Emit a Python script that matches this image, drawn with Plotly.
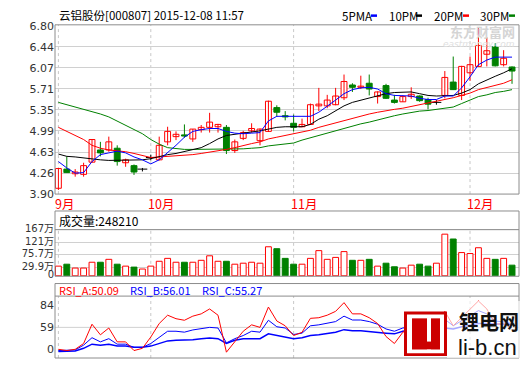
import plotly.graph_objects as go

W, H = 520, 365
RED, GREEN, BLUE, BLACK = '#ff0000', '#008000', '#0000ff', '#000000'
GRID, BORDER = '#d0d0d0', '#8c8c8c'

# ---------------- data ----------------
month_labels = ['9月', '10月', '11月', '12月']
month_pos = [0, 11, 28, 49]

open_ = [4.00, 4.33, 4.25, 4.24, 4.45, 4.66, 4.66, 4.69, 4.44, 4.39,
         4.33, 4.53, 4.49, 4.80, 4.89, 4.92, 4.85, 5.01, 5.05, 5.06,
         5.05, 4.65, 4.86, 4.99, 4.82, 4.98, 5.39, 5.25, 5.12, 5.06,
         5.10, 5.42, 5.42, 5.44, 5.56, 5.78, 5.74, 5.81, 5.58, 5.77,
         5.52, 5.49, 5.58, 5.59, 5.53, 5.48, 5.60, 5.83, 5.60, 5.99,
         6.10, 6.31, 6.44, 6.13, 6.09]
high = [4.34, 4.55, 4.33, 4.44, 4.84, 4.80, 4.89, 4.74, 4.51, 4.41,
        4.35, 4.58, 4.89, 5.06, 4.98, 5.10, 5.02, 5.09, 5.30, 5.11,
        5.09, 4.84, 4.99, 5.12, 5.03, 5.51, 5.43, 5.33, 5.27, 5.20,
        5.46, 5.73, 5.61, 5.73, 5.96, 5.81, 5.94, 5.96, 5.67, 5.80,
        5.61, 5.60, 5.74, 5.60, 5.56, 5.52, 6.02, 6.27, 6.11, 6.27,
        6.76, 6.60, 6.50, 6.38, 6.10]
low = [3.97, 4.27, 4.20, 4.20, 4.44, 4.55, 4.63, 4.39, 4.37, 4.23,
       4.29, 4.48, 4.48, 4.74, 4.83, 4.87, 4.80, 4.96, 4.96, 4.96,
       4.59, 4.61, 4.83, 4.96, 4.74, 4.97, 5.23, 5.17, 4.98, 5.06,
       5.10, 5.33, 5.38, 5.43, 5.52, 5.66, 5.71, 5.60, 5.46, 5.54,
       5.46, 5.49, 5.54, 5.49, 5.36, 5.44, 5.55, 5.70, 5.52, 5.85,
       6.10, 6.10, 6.10, 6.10, 5.80]
close = [4.34, 4.27, 4.28, 4.39, 4.84, 4.61, 4.80, 4.46, 4.49, 4.28,
         4.33, 4.53, 4.74, 4.98, 4.93, 4.90, 5.02, 5.05, 5.14, 5.10,
         4.65, 4.80, 4.96, 5.03, 5.02, 5.50, 5.31, 5.23, 5.05, 5.10,
         5.44, 5.45, 5.52, 5.59, 5.84, 5.74, 5.76, 5.71, 5.66, 5.55,
         5.48, 5.58, 5.62, 5.51, 5.45, 5.48, 5.91, 5.70, 6.10, 6.13,
         6.46, 6.37, 6.11, 6.24, 6.02]

ma5 = [4.46, 4.35, 4.26, 4.27, 4.46, 4.58, 4.61, 4.64, 4.61, 4.54,
       4.49, 4.42, 4.49, 4.61, 4.74, 4.88, 4.98, 5.01, 5.03, 5.03,
       4.98, 4.95, 4.94, 4.95, 4.96, 5.16, 5.24, 5.24, 5.24, 5.24,
       5.24, 5.31, 5.41, 5.52, 5.63, 5.70, 5.73, 5.74, 5.71, 5.63,
       5.60, 5.59, 5.59, 5.55, 5.53, 5.53, 5.59, 5.59, 5.73, 5.92,
       6.13, 6.21, 6.26, 6.26, 6.26]
ma10 = [4.59, 4.55, 4.54, 4.52, 4.50, 4.49, 4.48, 4.48, 4.48, 4.48,
        4.49, 4.51, 4.55, 4.58, 4.60, 4.63, 4.66, 4.70, 4.77, 4.85,
        4.91, 4.93, 4.95, 4.96, 4.99, 5.02, 5.05, 5.06, 5.06, 5.06,
        5.10, 5.19, 5.25, 5.33, 5.42, 5.48, 5.52, 5.56, 5.60, 5.63,
        5.65, 5.66, 5.66, 5.63, 5.60, 5.59, 5.59, 5.60, 5.64, 5.70,
        5.80, 5.87, 5.93, 5.99, 6.06]
ma20 = [5.05, 4.98, 4.91, 4.84, 4.74, 4.69, 4.66, 4.65, 4.63, 4.60,
        4.56, 4.53, 4.54, 4.55, 4.55, 4.56, 4.58, 4.60, 4.62, 4.65,
        4.67, 4.70, 4.74, 4.77, 4.80, 4.85, 4.88, 4.91, 4.94, 4.96,
        5.00, 5.05, 5.09, 5.13, 5.16, 5.20, 5.24, 5.28, 5.31, 5.34,
        5.36, 5.38, 5.41, 5.44, 5.46, 5.49, 5.53, 5.56, 5.60, 5.64,
        5.70, 5.74, 5.78, 5.81, 5.87]
ma30 = [5.48, 5.44, 5.40, 5.36, 5.33, 5.28, 5.23, 5.16, 5.09, 5.01,
        4.94, 4.84, 4.76, 4.70, 4.68, 4.67, 4.67, 4.67, 4.67, 4.67,
        4.67, 4.67, 4.68, 4.69, 4.70, 4.73, 4.75, 4.77, 4.78, 4.83,
        4.87, 4.91, 4.95, 4.99, 5.04, 5.08, 5.11, 5.14, 5.18, 5.21,
        5.25, 5.28, 5.31, 5.33, 5.34, 5.36, 5.38, 5.40, 5.46, 5.52,
        5.58, 5.61, 5.65, 5.67, 5.70]

volume = [35.0, 42.0, 28.0, 28.0, 49.1, 49.1, 59.6, 42.0, 35.0, 31.5,
          24.5, 35.0, 52.6, 63.1, 49.1, 49.1, 49.1, 56.1, 72.4, 52.6,
          52.6, 42.0, 45.6, 49.1, 45.6, 105.1, 98.1, 63.1, 42.0, 42.0,
          63.1, 91.1, 59.6, 66.6, 87.6, 56.1, 56.1, 59.6, 35.0, 45.6,
          32.7, 28.0, 38.5, 42.0, 35.0, 45.6, 150.7, 133.2, 84.1, 80.6,
          101.6, 63.1, 59.6, 63.1, 38.5]  # 万股

rsi_a = [0.0, -3.4, 0.0, 15.6, 62.6, 39.0, 57.3, 20.0, 20.0, -3.4,
         2.6, 33.1, 63.4, 72.9, 68.9, 67.1, 71.8, 74.4, 80.0, 72.9,
         -7.8, 20.0, 48.6, 61.9, 59.0, 82.2, 66.3, 60.8, 37.0, 45.8,
         69.3, 70.0, 72.9, 77.3, 87.2, 74.4, 74.4, 70.0, 63.4, 34.4,
         15.6, 45.8, 59.0, 28.6, 2.6, 37.0, 77.3, 60.8, 70.0, 79.2,
         89.1, 80.0, 62.6, 63.4, 57.3]
rsi_b = [-3.4, -3.4, -1.8, 11.2, 31.2, 20.0, 28.6, 13.8, 13.8, 5.2,
         5.2, 15.6, 33.1, 48.6, 48.6, 46.1, 52.1, 54.7, 59.0, 57.3,
         17.4, 28.6, 37.0, 48.6, 46.1, 67.1, 59.7, 57.3, 39.8, 43.5,
         60.8, 61.9, 63.4, 65.6, 71.8, 67.4, 67.4, 65.6, 62.6, 54.7,
         48.6, 57.3, 59.7, 50.2, 39.8, 50.2, 68.2, 60.8, 66.3, 71.8,
         78.1, 74.4, 66.3, 65.2, 63.4]
rsi_c = [-6.0, -6.0, -4.4, 2.6, 13.8, 11.2, 13.8, 8.6, 8.6, 5.2,
         5.2, 8.6, 15.6, 22.6, 24.2, 24.2, 26.0, 28.6, 30.5, 28.6,
         15.6, 24.2, 28.6, 28.6, 28.6, 41.6, 37.2, 34.6, 28.6, 31.2,
         37.2, 39.0, 41.6, 46.1, 52.9, 50.2, 50.2, 48.6, 46.1, 43.5,
         41.6, 48.6, 52.1, 50.2, 46.1, 50.2, 57.3, 54.7, 59.7, 61.9,
         63.4, 63.4, 62.6, 62.6, 62.6]

price_ticks = [3.90, 4.2625, 4.625, 4.9875, 5.35, 5.7125, 6.075, 6.4375, 6.80]
price_tick_text = ['3.90', '4.26', '4.63', '4.99', '5.35', '5.71', '6.07', '6.44', '6.80']
vol_ticks = [0, 29.9, 75.7, 121, 167]
vol_tick_text = ['0', '29.9万', '75.7万', '121万', '167万']
rsi_ticks = [0, 59, 84]

title_text = '云铝股份[000807] 2015-12-08 11:57'
vol_header = '成交量:248210'
rsi_header = [('RSI_A:50.09', RED), ('RSI_B:56.01', BLUE), ('RSI_C:55.27', BLUE)]
ma_names = [('5PMA', BLUE), ('10PM', BLACK), ('20PM', RED), ('30PM', GREEN)]

# ---------------- helpers (layout only) ----------------
def px(x):
    return x / W

def py(y):
    return (H - y) / H

def rsi_axis(v):
    # the RSI panel's labels 0 / 59 / 84 are evenly spaced on screen
    return v / 59.0 if v <= 59 else 1.0 + (v - 59) / 25.0

n = len(close)
idx = list(range(n))
up = [i for i in idx if close[i] > open_[i]]
dn = [i for i in idx if close[i] < open_[i]]
dj = [i for i in idx if close[i] == open_[i]]

X_RANGE = [-0.405, 54.83]
fig = go.Figure()

def wick(ids, color):
    xs, ys = [], []
    for i in ids:
        xs += [i, i, None]
        ys += [low[i], high[i], None]
    fig.add_trace(go.Scatter(x=xs, y=ys, mode='lines', line=dict(color=color, width=1),
                             xaxis='x', yaxis='y', hoverinfo='skip'))

wick(up, RED)
wick(dn, GREEN)
wick(dj, BLACK)

BW = 0.7
fig.add_trace(go.Bar(x=up, y=[close[i] - open_[i] for i in up], base=[open_[i] for i in up],
                     width=BW, marker=dict(color='white', line=dict(color=RED, width=1)),
                     xaxis='x', yaxis='y'))
fig.add_trace(go.Bar(x=dn, y=[open_[i] - close[i] for i in dn], base=[close[i] for i in dn],
                     width=BW, marker=dict(color=GREEN, line=dict(color=GREEN, width=1)),
                     xaxis='x', yaxis='y'))
fig.add_trace(go.Scatter(x=dj, y=[close[i] for i in dj], mode='markers',
                         marker=dict(symbol='line-ew', size=7, line=dict(color=BLACK, width=1)),
                         xaxis='x', yaxis='y'))

for arr, col in [(ma30, GREEN), (ma20, RED), (ma10, BLACK), (ma5, BLUE)]:
    fig.add_trace(go.Scatter(x=idx, y=arr, mode='lines', line=dict(color=col, width=1),
                             xaxis='x', yaxis='y'))

# volume
vup = [i for i in idx if close[i] >= open_[i]]
vdn = [i for i in idx if close[i] < open_[i]]
fig.add_trace(go.Bar(x=vup, y=[volume[i] for i in vup], width=BW,
                     marker=dict(color='white', line=dict(color=RED, width=1)),
                     xaxis='x2', yaxis='y2'))
fig.add_trace(go.Bar(x=vdn, y=[volume[i] for i in vdn], width=BW,
                     marker=dict(color=GREEN, line=dict(color=GREEN, width=1)),
                     xaxis='x2', yaxis='y2'))

# RSI
for arr, col, wd in [(rsi_c, BLUE, 1.5), (rsi_b, BLUE, 1), (rsi_a, RED, 1)]:
    fig.add_trace(go.Scatter(x=idx, y=[rsi_axis(v) for v in arr], mode='lines',
                             line=dict(color=col, width=wd), xaxis='x3', yaxis='y3'))

# ---------------- layout ----------------
PLOT_L, PLOT_R = 55, 519
MAIN_T, MAIN_B = 20.5, 195.5
VOL_T, VOL_B = 213, 280.5
RSI_T, RSI_B = 288, 365
VOL_RANGE = [-1.75, 234.6]
RSI_RANGE = [-0.397, 3.0]
RSI_HEAD = 301

tickfont = dict(family='DejaVu Sans, Noto Sans CJK SC', size=11, color='#333333')
voltickfont = dict(family='DejaVu Sans, Noto Sans CJK SC', size=10, color='#333333')
xcommon = dict(range=X_RANGE, showticklabels=False, showgrid=False, zeroline=False,
               showline=False, domain=[px(PLOT_L), px(PLOT_R)], fixedrange=True)

fig.update_layout(
    width=W, height=H, margin=dict(l=0, r=0, t=0, b=0),
    paper_bgcolor='white', plot_bgcolor='white', showlegend=False,
    barmode='overlay', hovermode=False,
    xaxis=dict(anchor='y', **xcommon),
    xaxis2=dict(anchor='y2', **xcommon),
    xaxis3=dict(anchor='y3', **xcommon),
    yaxis=dict(domain=[py(MAIN_B), py(MAIN_T)], range=[3.90, 6.80 + 1 / 60], anchor='x',
               tickvals=price_ticks, ticktext=price_tick_text, showgrid=True,
               gridcolor=GRID, gridwidth=1, zeroline=False, tickfont=tickfont, ticks=''),
    yaxis2=dict(domain=[py(VOL_B), py(VOL_T)], range=VOL_RANGE, anchor='x2',
                tickvals=vol_ticks, ticktext=vol_tick_text, showgrid=True,
                gridcolor=GRID, zeroline=False, tickfont=voltickfont, ticks='',
                ticklabelshift=-1),
    yaxis3=dict(domain=[py(RSI_B), py(RSI_T)], range=RSI_RANGE, anchor='x3',
                tickvals=[rsi_axis(v) for v in rsi_ticks], ticktext=[str(v) for v in rsi_ticks],
                showgrid=False, zeroline=False, tickfont=tickfont, ticks=''),
)

shapes = []
# month dashed lines
for m in month_pos:
    shapes.append(dict(type='line', xref='x', yref='y domain', x0=m, x1=m, y0=0, y1=1,
                       line=dict(color='#c8c8c8', width=1, dash='3px,3px'), layer='below'))
    shapes.append(dict(type='line', xref='x2', yref='y2', x0=m, x1=m, y0=0, y1=vol_ticks[-1],
                       line=dict(color='#c8c8c8', width=1, dash='3px,3px'), layer='below'))
    shapes.append(dict(type='line', xref='x3', yref='paper', x0=m, x1=m, y0=0, y1=py(RSI_HEAD),
                       line=dict(color='#c8c8c8', width=1, dash='3px,3px'), layer='below'))
# rsi gridline at 59
shapes.append(dict(type='line', xref='x3 domain', yref='y3', x0=0, x1=1,
                   y0=rsi_axis(rsi_ticks[1]), y1=rsi_axis(rsi_ticks[1]),
                   line=dict(color=GRID, width=1), layer='below'))
# panel borders
for xr, yr in [('x domain', 'y domain'), ('x2 domain', 'y2 domain'), ('x3 domain', 'y3 domain')]:
    shapes.append(dict(type='rect', xref=xr, yref=yr, x0=0, x1=1, y0=0, y1=1,
                       line=dict(color=BORDER, width=1)))
# header dividers
shapes.append(dict(type='line', xref='x2 domain', yref='y2', x0=0, x1=1,
                   y0=vol_ticks[-1], y1=vol_ticks[-1], line=dict(color=BORDER, width=1)))
shapes.append(dict(type='line', xref='paper', yref='paper', x0=px(PLOT_L), x1=px(PLOT_R),
                   y0=py(RSI_HEAD), y1=py(RSI_HEAD), line=dict(color=BORDER, width=1)))

# legend marks
leg_x = [(340, 371), (387, 416), (432, 463), (478, 509)]
for (tx, lx), (name, col) in zip(leg_x, ma_names):
    shapes.append(dict(type='line', xref='paper', yref='paper', x0=px(lx), x1=px(lx + 6),
                       y0=py(11), y1=py(11), line=dict(color=col, width=2.5)))

# li-b.cn logo
shapes.append(dict(type='rect', xref='paper', yref='paper', x0=px(447), x1=px(520),
                   y0=py(365), y1=py(306), fillcolor='rgba(255,255,255,0.65)', line=dict(width=0)))
shapes.append(dict(type='rect', xref='paper', yref='paper', x0=px(404), x1=px(447),
                   y0=py(363), y1=py(317), fillcolor='#cc0000', line=dict(width=0)))
shapes.append(dict(type='rect', xref='paper', yref='paper', x0=px(407), x1=px(444),
                   y0=py(360), y1=py(320), fillcolor='white', line=dict(width=0)))
shapes.append(dict(type='rect', xref='paper', yref='paper', x0=px(412), x1=px(427),
                   y0=py(356), y1=py(324), fillcolor='#cc0000', line=dict(width=0)))
shapes.append(dict(type='rect', xref='paper', yref='paper', x0=px(412), x1=px(440),
                   y0=py(356), y1=py(348), fillcolor='#cc0000', line=dict(width=0)))
shapes.append(dict(type='rect', xref='paper', yref='paper', x0=px(431), x1=px(440),
                   y0=py(356), y1=py(324), fillcolor='#cc0000', line=dict(width=0)))
fig.update_layout(shapes=shapes)

cjk = 'Noto Sans CJK SC'
ann = []
ann.append(dict(text=title_text, x=px(57), y=py(10), xref='paper', yref='paper',
                xanchor='left', yanchor='middle', showarrow=False,
                font=dict(family=cjk, size=11.5, color=BLACK)))
for (tx, lx), (name, col) in zip(leg_x, ma_names):
    ann.append(dict(text=name, x=px(tx), y=py(11), xref='paper', yref='paper',
                    xanchor='left', yanchor='middle', showarrow=False,
                    font=dict(family=cjk, size=11.5, color=BLACK)))
for lab, m in zip(month_labels, month_pos):
    ann.append(dict(text=lab, x=m, y=py(205), xref='x', yref='paper', xanchor='left',
                    yanchor='middle', xshift=-5, showarrow=False,
                    font=dict(family=cjk, size=12.5, color=RED)))
ann.append(dict(text=vol_header, x=px(57), y=py(223), xref='paper', yref='paper',
                xanchor='left', yanchor='middle', showarrow=False,
                font=dict(family=cjk, size=12, color=BLACK)))
for (txt, col), hx in zip(rsi_header, [57, 128, 200]):
    ann.append(dict(text=txt, x=px(hx), y=py(294.5), xref='paper', yref='paper',
                    xanchor='left', yanchor='middle', showarrow=False,
                    font=dict(family=cjk, size=11, color=col)))
# eastmoney watermark
ann.append(dict(text='<b>东方财富网</b>', x=px(517), y=py(27), xref='paper', yref='paper',
                xanchor='right', yanchor='middle', showarrow=False,
                font=dict(family=cjk, size=13, color='#d4d4d4')))
ann.append(dict(text='<i>eastmoney.com</i>', x=px(517), y=py(40), xref='paper', yref='paper',
                xanchor='right', yanchor='middle', showarrow=False,
                font=dict(family='DejaVu Sans', size=9, color='#e0e0e0')))
# li-b.cn watermark
ann.append(dict(text='<b>锂电网</b>', x=px(457), y=py(327), xref='paper', yref='paper',
                xanchor='left', yanchor='middle', showarrow=False,
                font=dict(family=cjk, size=20, color='#111111')))
ann.append(dict(text='li-b.cn', x=px(456), y=py(354), xref='paper', yref='paper',
                xanchor='left', yanchor='middle', showarrow=False,
                font=dict(family='Liberation Sans', size=22, color='#111111')))
fig.update_layout(annotations=ann)

fig.write_html('out.html', config={'displayModeBar': False, 'staticPlot': True},
               post_script="document.body.style.margin='0';document.body.style.overflow='hidden';")
